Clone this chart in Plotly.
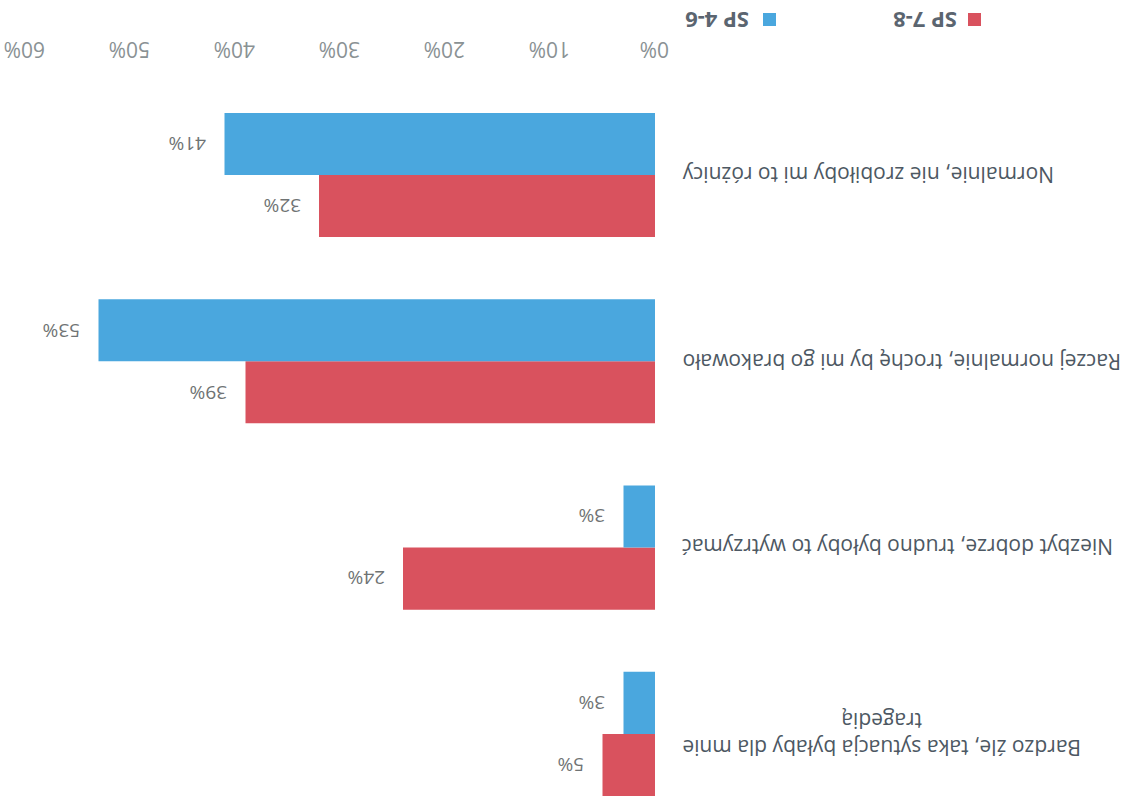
import plotly.graph_objects as go

categories = [
    "Bardzo źle, taka sytuacja byłaby dla mnie<br>tragedią",
    "Niezbyt dobrze, trudno byłoby to wytrzymać",
    "Raczej normalnie, trochę by mi go brakowało",
    "Normalnie, nie zrobiłoby mi to różnicy",
]
sp78 = [5, 24, 39, 32]
sp46 = [3, 3, 53, 41]
series_names = ["SP 7-8", "SP 4-6"]
colors = ["#d9525e", "#4aa7de"]
tick_vals = [0, 10, 20, 30, 40, 50, 60]
tick_text = [f"{v}%" for v in tick_vals]

FONT = "Open Sans"
W, H = 1125, 798
ML, MR, MT, MB = 25, 470, 80, 0
PW = W - ML - MR
PH = H - MT - MB

fig = go.Figure()
for name, vals, col in zip(series_names, [sp78, sp46], colors):
    fig.add_trace(go.Bar(
        y=list(range(len(categories))), x=vals, name=name, orientation="h",
        marker=dict(color=col, line=dict(width=0)),
        hoverinfo="skip",
    ))

annotations = []
# axis tick labels (rotated 180 degrees, like the reference)
for v, t in zip(tick_vals, tick_text):
    annotations.append(dict(
        x=v, y=1 + (MT - 50) / PH, xref="x", yref="paper", text=t,
        showarrow=False, textangle=180, xanchor="center", yanchor="middle",
        font=dict(family=FONT, size=21, color="#8a9294"),
    ))
# value labels
offsets = [-1/6, 1/6]
for vals, off in zip([sp78, sp46], offsets):
    for i, v in enumerate(vals):
        annotations.append(dict(
            x=v, y=i + off, xref="x", yref="y", text=f"{v}%",
            showarrow=False, textangle=180, xanchor="right", yanchor="middle",
            xshift=-16, font=dict(family=FONT, size=19, color="#6f7374"),
        ))
# category labels
for i, c in enumerate(categories):
    annotations.append(dict(
        x=1 + (680 - (ML + PW)) / PW, y=i, xref="paper", yref="y", text=c,
        showarrow=False, textangle=180, xanchor="left", yanchor="middle",
        align="center", font=dict(family=FONT, size=21, color="#4d5863"),
    ))
# legend
leg = [("SP 7-8", colors[0], 968, 891), ("SP 4-6", colors[1], 763, 683)]
shapes = []
for txt, col, sq_x, tx in leg:
    shapes.append(dict(type="rect", xref="paper", yref="paper",
                       x0=(sq_x - ML) / PW, x1=(sq_x + 13 - ML) / PW,
                       y0=1 + (MT - 26) / PH, y1=1 + (MT - 13) / PH,
                       fillcolor=col, line=dict(width=0)))
    annotations.append(dict(
        x=(tx - ML) / PW, y=1 + (MT - 21) / PH, xref="paper", yref="paper",
        text=f"<b>{txt}</b>", showarrow=False, textangle=180, xanchor="left",
        yanchor="middle", font=dict(family=FONT, size=22, color="#5b6570"),
    ))

fig.update_layout(
    width=W, height=H, margin=dict(l=ML, r=MR, t=MT, b=MB),
    barmode="group", bargap=0.334, bargroupgap=0,
    showlegend=False, plot_bgcolor="white", paper_bgcolor="white",
    annotations=annotations, shapes=shapes,
    xaxis=dict(range=[60, 0], side="top", tickmode="array", tickvals=tick_vals,
               showticklabels=False, showgrid=False, zeroline=False,
               showline=False, ticks=""),
    yaxis=dict(range=[-0.344, 3.51], showticklabels=False, showgrid=False,
               zeroline=False, showline=False, ticks=""),
)
fig.write_html("out.html", config={"displayModeBar": False},
               post_script="document.body.style.margin='0';document.body.style.overflow='hidden';")
